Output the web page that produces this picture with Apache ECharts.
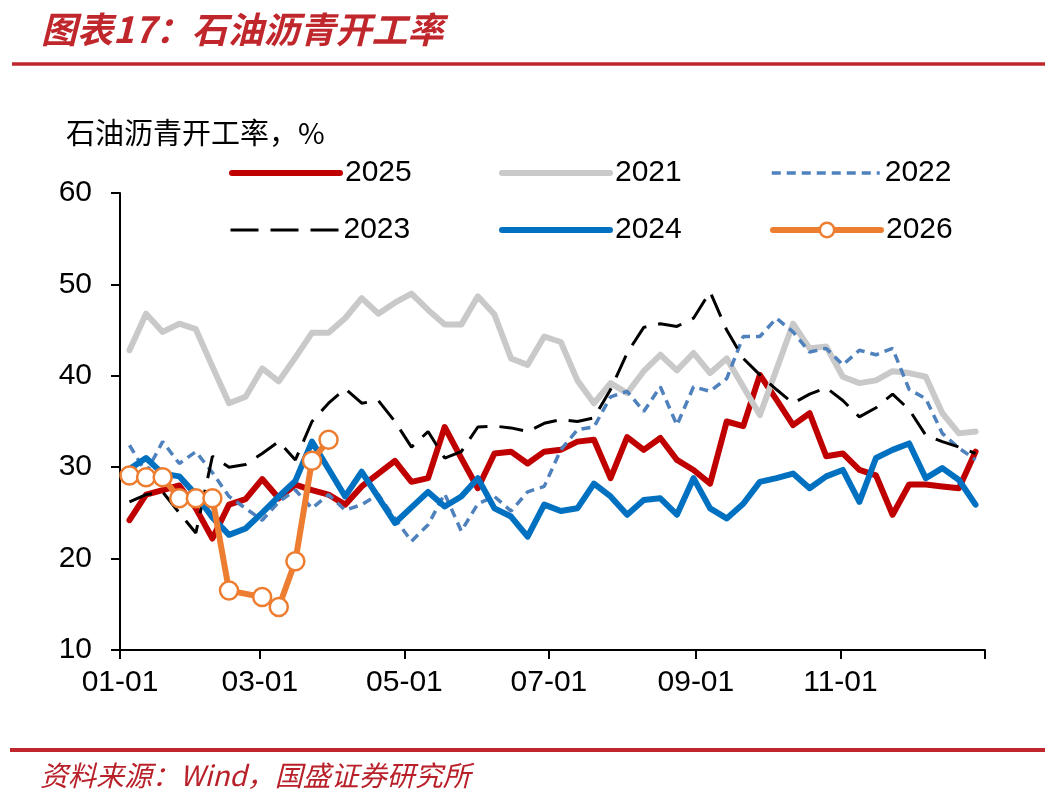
<!DOCTYPE html>
<html>
<head>
<meta charset="utf-8">
<title>石油沥青开工率</title>
<script src="https://cdn.jsdelivr.net/npm/echarts@6/dist/echarts.min.js"></script>
<style>
  html, body { margin: 0; padding: 0; background: #fff; }
  #main { width: 1057px; height: 798px; }
</style>
</head>
<body>
<div id="main"></div>
<script>
// 每周数据（按周排列，第一周约为 01-05）
var startDay = Date.UTC(2025, 0, 5);
var weekMs = 7 * 24 * 3600 * 1000;

var v2025 = [24.2, 27.0, 27.5, 28.0, 25.5, 22.2, 25.9, 26.5, 28.7, 26.6,
             28.1, 27.5, 27.0, 25.9, 27.9, 29.3, 30.7, 28.4, 28.8, 34.4,
             31.0, 27.7, 31.5, 31.7, 30.4, 31.7, 31.9, 32.8, 33.0, 28.8,
             33.3, 31.9, 33.2, 30.8, 29.7, 28.2, 35.0, 34.5, 40.1, 37.4,
             34.6, 35.9, 31.2, 31.5, 29.7, 29.1, 24.8, 28.1, 28.1, 27.9,
             27.7, 31.7];
var v2021 = [42.8, 46.8, 44.8, 45.7, 45.1, 41.0, 37.0, 37.7, 40.8, 39.4,
             42.0, 44.7, 44.7, 46.3, 48.5, 46.8, 48.0, 49.0, 47.2, 45.6,
             45.6, 48.7, 46.7, 41.9, 41.2, 44.3, 43.7, 39.5, 37.0, 39.2,
             38.1, 40.5, 42.3, 40.6, 42.5, 40.3, 41.9, 38.8, 35.7, 40.7,
             45.7, 43.0, 43.2, 39.9, 39.2, 39.5, 40.5, 40.3, 39.9, 35.9,
             33.7, 33.9];
var v2022 = [32.4, 29.4, 32.8, 30.4, 31.7, 29.4, 26.8, 25.5, 24.2, 26.2,
             27.5, 25.5, 27.0, 25.3, 25.9, 27.0, 24.4, 21.9, 23.7, 27.1,
             23.0, 26.0, 26.8, 25.2, 27.3, 27.9, 31.9, 34.1, 34.4, 37.7,
             38.3, 36.1, 38.8, 34.6, 38.8, 38.3, 39.7, 44.3, 44.3, 46.3,
             44.8, 42.6, 43.0, 41.2, 42.8, 42.3, 43.0, 38.5, 37.5, 33.7,
             32.1, 30.8];
var v2023 = [26.2, 27.0, 27.3, 25.0, 22.8, 31.2, 30.0, 30.3, 31.5, 32.8,
             30.8, 35.0, 37.0, 38.6, 37.0, 37.3, 35.0, 32.2, 33.9, 31.0,
             31.7, 34.4, 34.5, 34.3, 33.9, 34.8, 35.2, 35.0, 35.4, 38.5,
             42.5, 45.3, 45.7, 45.4, 46.3, 49.2, 45.0, 41.9, 40.1, 38.5,
             37.0, 38.0, 38.7, 37.3, 35.5, 36.5, 38.0, 36.3, 33.5, 32.8,
             32.2, 31.5];
var v2024 = [29.8, 31.0, 29.3, 29.0, 27.0, 24.5, 22.6, 23.3, 25.0, 26.8,
             28.5, 32.8, 29.8, 26.8, 29.5, 26.7, 23.9, 25.6, 27.3, 25.7,
             26.8, 28.8, 25.5, 24.6, 22.4, 25.9, 25.2, 25.5, 28.2, 26.8,
             24.8, 26.4, 26.6, 24.8, 28.8, 25.5, 24.4, 26.0, 28.4, 28.8,
             29.3, 27.7, 29.0, 29.7, 26.2, 31.0, 31.9, 32.6, 28.8, 29.9,
             28.6, 25.9];
var v2026 = [29.1, 28.9, 28.9, 26.6, 26.6, 26.6, 16.5, null, 15.8, 14.7,
             19.7, 30.7, 33.0];

// 坐标轴刻度：每两个月一个
var tickDays = [Date.UTC(2025, 0, 1), Date.UTC(2025, 2, 1), Date.UTC(2025, 4, 1),
                Date.UTC(2025, 6, 1), Date.UTC(2025, 8, 1), Date.UTC(2025, 10, 1),
                Date.UTC(2026, 0, 1)];
var labelDays = tickDays.slice(0, 6);

function pad(n) { return n < 10 ? '0' + n : '' + n; }

function toPairs(vals) {
    var out = [];
    for (var i = 0; i < vals.length; i++) {
        out.push([startDay + i * weekMs, vals[i]]);
    }
    return out;
}

var fontLatin = 'Liberation Sans, Arial, sans-serif';
var fontCJK = 'Noto Sans CJK SC, sans-serif';

// 图例：每项单独放，线型和序列一致
function legendAt(name, left, top, lineStyle, showMark) {
    return {
        data: [name],
        left: left,
        top: top,
        padding: 0,
        itemWidth: 108,
        itemHeight: 18,
        selectedMode: false,
        lineStyle: lineStyle,
        itemStyle: showMark ? { color: '#fff', borderColor: '#ED7D31', borderWidth: 2.5 } : { opacity: 0 },
        textStyle: { fontSize: 30, color: '#000', fontFamily: fontLatin }
    };
}

var myChart = echarts.init(document.getElementById('main'));

var option = {
    animation: false,
    backgroundColor: '#fff',
    title: [{
        text: '图表17：石油沥青开工率',
        left: 36,
        top: 6,
        textStyle: {
            fontSize: 36,
            fontWeight: 'bold',
            fontStyle: 'italic',
            color: '#C0272D',
            fontFamily: fontCJK
        }
    }, {
        text: '资料来源：Wind，国盛证券研究所',
        left: 35,
        top: 756,
        textStyle: {
            fontSize: 28,
            fontWeight: 'normal',
            fontStyle: 'italic',
            color: '#B8202A',
            fontFamily: fontCJK
        }
    }],
    graphic: [{
        type: 'line',
        shape: { x1: 12, y1: 64, x2: 1045, y2: 64 },
        style: { stroke: '#C0272D', lineWidth: 3.5 }
    }, {
        type: 'line',
        shape: { x1: 10, y1: 750, x2: 1045, y2: 750 },
        style: { stroke: '#C0272D', lineWidth: 4 }
    }, {
        type: 'text',
        left: 66,
        top: 118,
        style: {
            text: '石油沥青开工率，%',
            fontSize: 29,
            fill: '#000',
            fontFamily: fontCJK
        }
    }],
    legend: [
        legendAt('2025', 229, 158, { color: '#C00000', width: 6, cap: 'round' }),
        legendAt('2021', 499, 158, { color: '#C9C9C9', width: 6, cap: 'round' }),
        legendAt('2022', 770, 158, { color: '#4F81BD', width: 3.5, type: [9, 6] }),
        legendAt('2023', 229, 215, { color: '#000', width: 3, type: [28, 12] }),
        legendAt('2024', 499, 215, { color: '#0070C0', width: 6, cap: 'round' }),
        legendAt('2026', 770, 215, { color: '#ED7D31', width: 6, cap: 'round' }, true)
    ],
    grid: {
        left: 120,
        right: 72,
        top: 193,
        bottom: 148,
        outerBoundsMode: 'none'
    },
    xAxis: {
        type: 'value',
        min: tickDays[0],
        max: tickDays[6],
        axisLine: { lineStyle: { color: '#000', width: 2 } },
        axisTick: {
            show: true,
            customValues: tickDays,
            length: 9,
            lineStyle: { color: '#000', width: 2 }
        },
        axisLabel: {
            customValues: labelDays,
            margin: 18,
            fontSize: 30,
            color: '#000',
            fontFamily: fontLatin,
            formatter: function (v) {
                var d = new Date(v);
                return pad(d.getUTCMonth() + 1) + '-' + pad(d.getUTCDate());
            }
        },
        splitLine: { show: false }
    },
    yAxis: {
        type: 'value',
        min: 10,
        max: 60,
        interval: 10,
        axisLine: { show: true, lineStyle: { color: '#000', width: 2 } },
        axisTick: { show: true, length: 9, lineStyle: { color: '#000', width: 2 } },
        axisLabel: {
            margin: 28,
            fontSize: 30,
            color: '#000',
            fontFamily: fontLatin
        },
        splitLine: { show: false }
    },
    series: [{
        name: '2025',
        type: 'line',
        data: toPairs(v2025),
        symbol: 'none',
        color: '#C00000',
        lineStyle: { color: '#C00000', width: 6, cap: 'round', join: 'round' }
    }, {
        name: '2021',
        type: 'line',
        data: toPairs(v2021),
        symbol: 'none',
        color: '#C9C9C9',
        lineStyle: { color: '#C9C9C9', width: 6, cap: 'round', join: 'round' }
    }, {
        name: '2022',
        type: 'line',
        data: toPairs(v2022),
        symbol: 'none',
        color: '#4F81BD',
        lineStyle: { color: '#4F81BD', width: 3.5, type: [9, 6] }
    }, {
        name: '2023',
        type: 'line',
        data: toPairs(v2023),
        symbol: 'none',
        color: '#000',
        lineStyle: { color: '#000', width: 3, type: [24, 12] }
    }, {
        name: '2024',
        type: 'line',
        data: toPairs(v2024),
        symbol: 'none',
        color: '#0070C0',
        lineStyle: { color: '#0070C0', width: 6, cap: 'round', join: 'round' }
    }, {
        name: '2026',
        type: 'line',
        data: toPairs(v2026),
        connectNulls: true,
        symbol: 'circle',
        symbolSize: 18,
        showAllSymbol: true,
        color: '#ED7D31',
        itemStyle: { color: '#fff', borderColor: '#ED7D31', borderWidth: 2.5 },
        lineStyle: { color: '#ED7D31', width: 6, cap: 'round', join: 'round' },
        z: 5
    }]
};

myChart.setOption(option);
</script>
</body>
</html>
